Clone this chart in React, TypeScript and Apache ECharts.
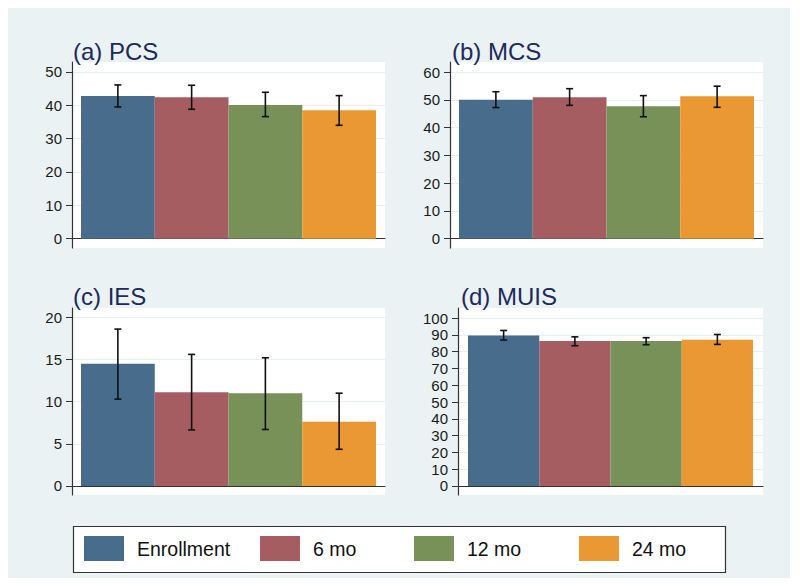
import React, { useEffect, useRef } from "react";
import * as echarts from "echarts";

const groups = ["Enrollment", "6 mo", "12 mo", "24 mo"];
const colors = ["#486c8c", "#a65d62", "#779159", "#e99833"];

const pcsMean = [42.8, 42.4, 40.1, 38.5];
const pcsLow = [39.5, 38.8, 36.6, 34.0];
const pcsHigh = [46.1, 46.0, 43.9, 42.9];

const mcsMean = [50.0, 50.9, 47.7, 51.3];
const mcsLow = [47.2, 48.0, 43.9, 47.3];
const mcsHigh = [52.9, 54.0, 51.5, 54.9];

const iesMean = [14.5, 11.1, 11.0, 7.6];
const iesLow = [10.3, 6.65, 6.7, 4.35];
const iesHigh = [18.6, 15.6, 15.2, 11.0];

const muisMean = [89.6, 86.3, 86.3, 87.1];
const muisLow = [86.9, 83.5, 84.1, 84.3];
const muisHigh = [92.6, 88.8, 88.3, 90.2];

const pcsTicks = [0, 10, 20, 30, 40, 50];
const mcsTicks = [0, 10, 20, 30, 40, 50, 60];
const iesTicks = [0, 5, 10, 15, 20];
const muisTicks = [0, 10, 20, 30, 40, 50, 60, 70, 80, 90, 100];

const titles = ["(a) PCS", "(b) MCS", "(c) IES", "(d) MUIS"];

const FONT = "'Liberation Sans', Arial, Helvetica, sans-serif";

type Panel = {
  mean: number[];
  low: number[];
  high: number[];
  ticks: number[];
  grid: { left: number; top: number; width: number; height: number };
  yMin: number;
  yMax: number;
  gap: number;
  title: { left: number; top: number };
};

const panels: Panel[] = [
  {
    mean: pcsMean, low: pcsLow, high: pcsHigh, ticks: pcsTicks,
    grid: { left: 72, top: 62, width: 313, height: 186 },
    yMin: -2.78, yMax: 52.97, gap: 18 / 313,
    title: { left: 73, top: 39 },
  },
  {
    mean: mcsMean, low: mcsLow, high: mcsHigh, ticks: mcsTicks,
    grid: { left: 450, top: 62, width: 313, height: 186 },
    yMin: -3.34, yMax: 63.6, gap: 18 / 313,
    title: { left: 452, top: 39 },
  },
  {
    mean: iesMean, low: iesLow, high: iesHigh, ticks: iesTicks,
    grid: { left: 72, top: 308, width: 313, height: 187 },
    yMin: -1.07, yMax: 21.1, gap: 18 / 313,
    title: { left: 73, top: 284 },
  },
  {
    mean: muisMean, low: muisLow, high: muisHigh, ticks: muisTicks,
    grid: { left: 458, top: 308, width: 305, height: 187 },
    yMin: -5.37, yMax: 105.97, gap: 20 / 305,
    title: { left: 461, top: 284 },
  },
];

const legendLefts = [84, 260, 414, 579];

export default function App() {
  const ref = useRef<HTMLDivElement>(null);

  useEffect(() => {
    if (!ref.current) return;
    const chart = echarts.init(ref.current, undefined, { renderer: "svg" });

    const grids: any[] = [];
    const xAxes: any[] = [];
    const yAxes: any[] = [];
    const series: any[] = [];
    const title: any[] = [];

    panels.forEach((p, pi) => {
      grids.push({
        ...p.grid,
        show: true,
        backgroundColor: "#ffffff",
        borderWidth: 0,
        containLabel: false,
      });
      xAxes.push({
        type: "category",
        gridIndex: pi,
        data: [""],
        axisLine: { show: true, lineStyle: { color: "#333", width: 1.2 } },
        axisTick: { show: false },
        axisLabel: { show: false },
        splitLine: { show: false },
      });
      yAxes.push({
        type: "value",
        gridIndex: pi,
        min: p.yMin,
        max: p.yMax,
        axisLine: { show: true, lineStyle: { color: "#333", width: 1.2 } },
        axisTick: {
          show: true,
          length: 6,
          customValues: p.ticks,
          lineStyle: { color: "#333", width: 1 },
        },
        axisLabel: {
          customValues: p.ticks,
          margin: 10,
          color: "#1a1a1a",
          fontSize: 15,
          fontFamily: FONT,
        },
        splitLine: { show: true, lineStyle: { color: "#e6eef0", width: 1 } },
      });
      groups.forEach((g, gi) => {
        series.push({
          type: "bar",
          name: g,
          xAxisIndex: pi,
          yAxisIndex: pi,
          data: [p.mean[gi]],
          barGap: "0%",
          barCategoryGap: (p.gap * 100).toFixed(2) + "%",
          itemStyle: { color: colors[gi] },
          z: 2,
        });
      });
      const gapFrac = p.gap;
      series.push({
        type: "custom",
        name: "err" + pi,
        xAxisIndex: pi,
        yAxisIndex: pi,
        data: groups.map((_, gi) => [0, p.low[gi], p.high[gi], gi]),
        encode: { x: 0, y: [1, 2] },
        z: 5,
        renderItem: (params: any, api: any) => {
          const gi = api.value(3);
          const center = api.coord([0, 0])[0];
          const band = api.size([1, 0])[0];
          const total = band * (1 - gapFrac);
          const bw = total / 4;
          const x = center - total / 2 + (gi + 0.5) * bw;
          const yLo = api.coord([0, api.value(1)])[1];
          const yHi = api.coord([0, api.value(2)])[1];
          const cap = 3.5;
          const style = { stroke: "#111", lineWidth: 1.6 };
          return {
            type: "group",
            children: [
              { type: "line", shape: { x1: x, y1: yLo, x2: x, y2: yHi }, style },
              { type: "line", shape: { x1: x - cap, y1: yLo, x2: x + cap, y2: yLo }, style },
              { type: "line", shape: { x1: x - cap, y1: yHi, x2: x + cap, y2: yHi }, style },
            ],
          };
        },
      });
      title.push({
        text: titles[pi],
        left: p.title.left,
        top: p.title.top,
        padding: 0,
        textStyle: {
          color: "#1c2a5c",
          fontSize: 24,
          fontWeight: "normal",
          fontFamily: FONT,
        },
      });
    });

    const legend = groups.map((g, gi) => ({
      data: [{ name: g, icon: "rect" }],
      left: legendLefts[gi],
      top: 536,
      padding: 0,
      itemWidth: 40,
      itemHeight: 25,
      selectedMode: false,
      textStyle: {
        color: "#111",
        fontSize: 19.5,
        fontFamily: FONT,
        padding: [0, 0, 0, 8],
      },
    }));

    chart.setOption({
      animation: false,
      backgroundColor: "#ffffff",
      title,
      grid: grids,
      xAxis: xAxes,
      yAxis: yAxes,
      series,
      legend,
      graphic: [
        {
          type: "rect",
          z: -100,
          silent: true,
          shape: { x: 8, y: 8, width: 782, height: 570 },
          style: { fill: "#eaf2f3" },
        },
        {
          type: "rect",
          z: 1,
          silent: true,
          shape: { x: 73.5, y: 526.5, width: 652, height: 46 },
          style: { fill: "#ffffff", stroke: "#333", lineWidth: 1.2 },
        },
      ],
    });

    return () => chart.dispose();
  }, []);

  return (
    <div
      ref={ref}
      style={{ position: "absolute", left: 0, top: 0, width: 800, height: 587 }}
    />
  );
}
